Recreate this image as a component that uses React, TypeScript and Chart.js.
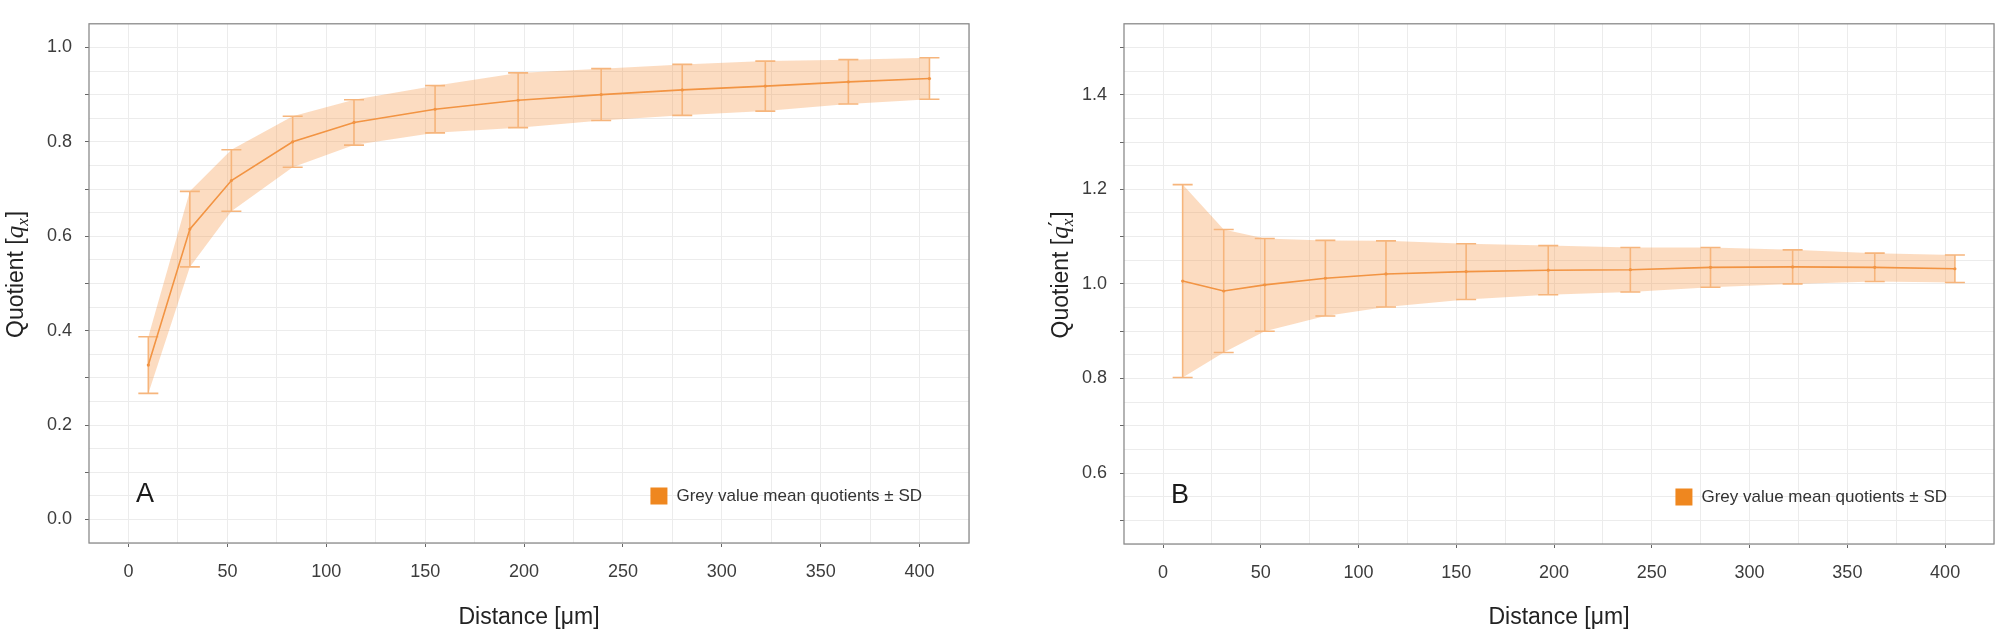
import React, { useEffect, useRef } from 'react';
import { Chart, registerables } from 'chart.js';

Chart.register(...registerables);

// ---------- data ----------
const distances = [10, 31, 52, 83, 114, 155, 197, 239, 280, 322, 364, 405];

const meanA = [0.327, 0.615, 0.718, 0.8, 0.841, 0.869, 0.888, 0.9, 0.91, 0.918, 0.927, 0.934];
const sdA = [0.06, 0.08, 0.065, 0.054, 0.048, 0.05, 0.058, 0.055, 0.054, 0.053, 0.047, 0.044];

const meanB = [1.006, 0.985, 0.998, 1.012, 1.021, 1.026, 1.029, 1.03, 1.035, 1.036, 1.035, 1.032];
const sdB = [0.204, 0.13, 0.098, 0.08, 0.07, 0.059, 0.052, 0.047, 0.042, 0.036, 0.03, 0.029];

const legendLabel = 'Grey value mean quotients ± SD';
const xTitle = 'Distance [μm]';
const yTitleMain = 'Quotient [';
const panelLetters = ['A', 'B'];

// ---------- styles ----------
const FONT = "'Liberation Sans', Arial, sans-serif";
const SERIF = "'Liberation Serif', 'DejaVu Serif', serif";
const BAND = 'rgba(246,140,50,0.30)';
const LINE = '#F29443';
const ERR = '#F6B57C';
const LEG = '#EF871F';
const GRID = '#ececec';
const TRANSPARENT = 'rgba(0,0,0,0)';

type PanelCfg = {
  mean: number[];
  sd: number[];
  yMin: number;
  yMax: number;
  letter: string;
  prime: boolean;
  yAxisWidth: number;
  xAxisHeight: number;
  padding: { left: number; right: number; top: number; bottom: number };
  titleBaseX: number;
};

function drawYTitle(ctx: CanvasRenderingContext2D, xBase: number, yCenter: number, prime: boolean) {
  const mainFont = `23px ${FONT}`;
  const qFont = `italic 25px ${SERIF}`;
  const subFont = `italic 17px ${SERIF}`;
  const primeFont = `22px 'DejaVu Sans', ${SERIF}`;
  ctx.font = mainFont;
  const w1 = ctx.measureText(yTitleMain).width;
  const wBr = ctx.measureText(']').width;
  ctx.font = qFont;
  const wq = ctx.measureText('q').width;
  ctx.font = subFont;
  const wx = ctx.measureText('x').width;
  ctx.font = primeFont;
  const wp = prime ? ctx.measureText('′').width : 0;
  const subW = Math.max(wx, wp) + 1;
  const total = w1 + wq + subW + wBr;
  ctx.save();
  ctx.translate(xBase, yCenter);
  ctx.rotate(-Math.PI / 2);
  ctx.fillStyle = '#222';
  ctx.textBaseline = 'alphabetic';
  ctx.textAlign = 'left';
  let cx = -total / 2;
  ctx.font = mainFont;
  ctx.fillText(yTitleMain, cx, 0);
  cx += w1;
  ctx.font = qFont;
  ctx.fillText('q', cx, 0);
  cx += wq;
  if (prime) {
    ctx.font = primeFont;
    ctx.fillText('′', cx, -4);
  }
  ctx.font = subFont;
  ctx.fillText('x', cx, 5);
  cx += subW;
  ctx.font = mainFont;
  ctx.fillText(']', cx, 0);
  ctx.restore();
}

function Panel({ cfg }: { cfg: PanelCfg }) {
  const ref = useRef<HTMLCanvasElement | null>(null);

  useEffect(() => {
    const canvas = ref.current;
    if (!canvas) return;
    const meanPts = distances.map((d, i) => ({ x: d, y: cfg.mean[i] }));
    const hiPts = distances.map((d, i) => ({ x: d, y: cfg.mean[i] + cfg.sd[i] }));
    const loPts = distances.map((d, i) => ({ x: d, y: cfg.mean[i] - cfg.sd[i] }));

    const decor = {
      id: 'decor',
      beforeDatasetDraw(chart: any, args: any) {
        if (args.index !== 0) return;
        const ctx = chart.ctx as CanvasRenderingContext2D;
        const xs = chart.scales.x;
        const ys = chart.scales.y;
        ctx.save();
        ctx.strokeStyle = ERR;
        ctx.lineWidth = 1.6;
        distances.forEach((d, i) => {
          const px = xs.getPixelForValue(d);
          const pHi = ys.getPixelForValue(cfg.mean[i] + cfg.sd[i]);
          const pLo = ys.getPixelForValue(cfg.mean[i] - cfg.sd[i]);
          ctx.beginPath();
          ctx.moveTo(px, pHi);
          ctx.lineTo(px, pLo);
          ctx.moveTo(px - 10, pHi);
          ctx.lineTo(px + 10, pHi);
          ctx.moveTo(px - 10, pLo);
          ctx.lineTo(px + 10, pLo);
          ctx.stroke();
        });
        ctx.restore();
      },
      afterDraw(chart: any) {
        const ctx = chart.ctx as CanvasRenderingContext2D;
        const a = chart.chartArea;
        ctx.save();
        // plot frame
        ctx.strokeStyle = '#8c8c8c';
        ctx.lineWidth = 1.3;
        ctx.strokeRect(a.left, a.top, a.right - a.left, a.bottom - a.top);
        // panel letter
        ctx.fillStyle = '#1a1a1a';
        ctx.font = `27px ${FONT}`;
        ctx.textAlign = 'center';
        ctx.textBaseline = 'middle';
        ctx.fillText(cfg.letter, a.left + 56, a.bottom - 48);
        // legend
        const label = chart.data.datasets[0].label as string;
        ctx.font = `17px ${FONT}`;
        ctx.textAlign = 'right';
        ctx.fillStyle = '#333';
        const tx = a.right - 47;
        const ty = a.bottom - 47;
        ctx.fillText(label, tx, ty);
        const tw = ctx.measureText(label).width;
        ctx.fillStyle = LEG;
        ctx.fillRect(tx - tw - 9 - 17, ty - 8.5, 17, 17);
        ctx.restore();
        // y title
        drawYTitle(ctx, cfg.titleBaseX, (a.top + a.bottom) / 2 - 9, cfg.prime);
      },
    };

    const chart = new Chart(canvas, {
      type: 'line',
      data: {
        datasets: [
          {
            label: legendLabel,
            data: meanPts,
            borderColor: LINE,
            backgroundColor: LINE,
            borderWidth: 1.6,
            pointRadius: 1.6,
            pointBorderWidth: 0,
            fill: false,
            tension: 0,
          },
          {
            label: 'mean + SD',
            data: hiPts,
            borderWidth: 0,
            borderColor: TRANSPARENT,
            backgroundColor: BAND,
            pointRadius: 0,
            fill: '+1',
            tension: 0,
          },
          {
            label: 'mean - SD',
            data: loPts,
            borderWidth: 0,
            borderColor: TRANSPARENT,
            backgroundColor: BAND,
            pointRadius: 0,
            fill: false,
            tension: 0,
          },
        ],
      },
      options: {
        responsive: false,
        animation: false,
        events: [],
        layout: { padding: cfg.padding },
        plugins: {
          legend: { display: false },
          tooltip: { enabled: false },
          title: { display: false },
        },
        scales: {
          x: {
            type: 'linear',
            min: -20,
            max: 425,
            afterFit: (s: any) => {
              s.height = cfg.xAxisHeight;
            },
            ticks: {
              stepSize: 25,
              autoSkip: false,
              includeBounds: false,
              maxRotation: 0,
              padding: 14,
              color: '#3c3c3c',
              font: { family: FONT, size: 18 },
              callback: (v: any) => {
                const r = Math.round(Number(v));
                return r % 50 === 0 ? String(r) : '';
              },
            },
            grid: {
              color: GRID,
              lineWidth: 1,
              tickLength: 4,
              tickColor: (c: any) => (Math.round(c.tick?.value ?? 1) % 50 === 0 ? '#666' : TRANSPARENT),
            },
            border: { display: false },
            title: {
              display: true,
              text: xTitle,
              color: '#222',
              font: { family: FONT, size: 23 },
              padding: { top: 0, bottom: 3 },
            },
          },
          y: {
            type: 'linear',
            min: cfg.yMin,
            max: cfg.yMax,
            afterFit: (s: any) => {
              s.width = cfg.yAxisWidth;
            },
            ticks: {
              stepSize: 0.05,
              autoSkip: false,
              padding: 13,
              color: '#3c3c3c',
              font: { family: FONT, size: 18 },
              callback: (v: any) => {
                const r = Math.round(Number(v) * 100);
                return r % 20 === 0 ? (r / 100).toFixed(1) : '';
              },
            },
            grid: {
              color: GRID,
              lineWidth: 1,
              tickLength: 4,
              tickColor: (c: any) =>
                Math.round((c.tick?.value ?? 0.05) * 100) % 10 === 0 ? '#666' : TRANSPARENT,
            },
            border: { display: false },
          },
        },
      },
      plugins: [decor],
    } as any);

    return () => {
      chart.destroy();
    };
  }, [cfg]);

  return <canvas ref={ref} width={1004} height={634} style={{ display: 'block', width: 1004, height: 634 }} />;
}

const panelA: PanelCfg = {
  mean: meanA,
  sd: sdA,
  yMin: -0.05,
  yMax: 1.05,
  letter: panelLetters[0],
  prime: false,
  yAxisWidth: 89,
  xAxisHeight: 91,
  padding: { left: 0, right: 35, top: 4, bottom: 0 },
  titleBaseX: 23,
};

const panelB: PanelCfg = {
  mean: meanB,
  sd: sdB,
  yMin: 0.45,
  yMax: 1.55,
  letter: panelLetters[1],
  prime: true,
  yAxisWidth: 120,
  xAxisHeight: 90,
  padding: { left: 0, right: 5, top: 5, bottom: 0 },
  titleBaseX: 64,
};

export default function App() {
  return (
    <div
      style={{
        position: 'absolute',
        left: 0,
        top: 0,
        width: 2008,
        height: 634,
        display: 'flex',
        background: '#fff',
      }}
    >
      <Panel cfg={panelA} />
      <Panel cfg={panelB} />
    </div>
  );
}
